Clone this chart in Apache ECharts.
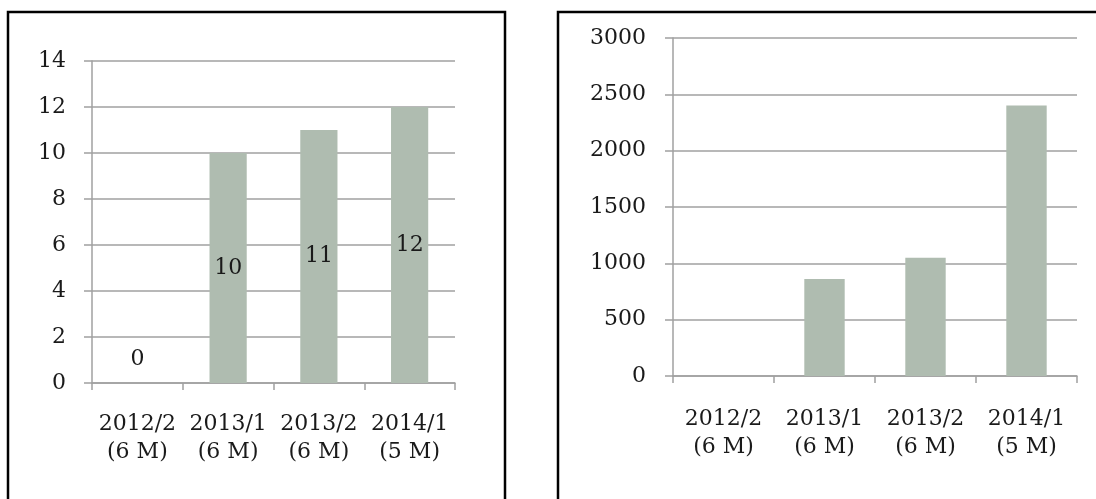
<!DOCTYPE html>
<html>
<head>
<meta charset="utf-8">
<script src="https://cdn.jsdelivr.net/npm/echarts@6/dist/echarts.min.js"></script>
<style>
  html, body { margin: 0; padding: 0; background: #ffffff; }
  #chartBox { width: 1096px; height: 499px; }
</style>
</head>
<body>
<div id="chartBox"></div>
<script>
// 数据
const categories = ['2012/2\n(6 M)', '2013/1\n(6 M)', '2013/2\n(6 M)', '2014/1\n(5 M)']
const countValues = [0, 10, 11, 12]
const amountValues = [0, 860, 1050, 2400]

const barColor = '#afbcb0'
const gridColor = '#a0a0a0'
const textColor = '#1a1a1a'
const fontFamily = 'DejaVu Serif'
const fontSize = 22

const chartBox = echarts.init(document.getElementById('chartBox'))

const xAxisBase = (gridIndex, margin) => ({
  type: 'category',
  gridIndex: gridIndex,
  data: categories,
  axisLine: { show: true, lineStyle: { color: gridColor, width: 1.5 } },
  axisTick: { show: true, length: 7, alignWithLabel: false, lineStyle: { color: gridColor, width: 1.5 } },
  axisLabel: {
    color: textColor,
    fontFamily: fontFamily,
    fontSize: fontSize,
    lineHeight: 28,
    margin: margin,
    interval: 0
  }
})

const yAxisBase = (gridIndex, max, interval, margin) => ({
  type: 'value',
  gridIndex: gridIndex,
  min: 0,
  max: max,
  interval: interval,
  axisLine: { show: true, lineStyle: { color: gridColor, width: 1.5 } },
  axisTick: { show: true, length: 8, lineStyle: { color: gridColor, width: 1.5 } },
  splitLine: { show: true, lineStyle: { color: gridColor, width: 1.5 } },
  axisLabel: {
    color: textColor,
    fontFamily: fontFamily,
    fontSize: fontSize,
    margin: margin,
    formatter: function (v) {
      return String(v) // 不要千分位
    }
  }
})

// 左图的数据标签，0 值放在轴上方
const countData = countValues.map(function (v) {
  if (v === 0) {
    return { value: v, label: { position: 'top', distance: 13 } }
  }
  return v
})

const option = {
  backgroundColor: '#ffffff',
  animation: false,
  graphic: [
    {
      type: 'rect',
      shape: { x: 8, y: 12, width: 497, height: 500 },
      style: { fill: 'none', stroke: '#000000', lineWidth: 2.5 }
    },
    {
      type: 'rect',
      shape: { x: 558, y: 12, width: 560, height: 500 },
      style: { fill: 'none', stroke: '#000000', lineWidth: 2.5 }
    }
  ],
  grid: [
    { left: 92, right: 641, top: 61, bottom: 116 },
    { left: 673, right: 19, top: 38, bottom: 123 }
  ],
  xAxis: [xAxisBase(0, 27), xAxisBase(1, 29)],
  yAxis: [yAxisBase(0, 14, 2, 26), yAxisBase(1, 3000, 500, 27)],
  series: [
    {
      type: 'bar',
      xAxisIndex: 0,
      yAxisIndex: 0,
      barWidth: '41%',
      itemStyle: { color: barColor },
      label: {
        show: true,
        position: 'inside',
        color: textColor,
        fontFamily: fontFamily,
        fontSize: fontSize
      },
      data: countData
    },
    {
      type: 'bar',
      xAxisIndex: 1,
      yAxisIndex: 1,
      barWidth: '40%',
      itemStyle: { color: barColor },
      data: amountValues
    }
  ]
}

chartBox.setOption(option, true)
</script>
</body>
</html>
